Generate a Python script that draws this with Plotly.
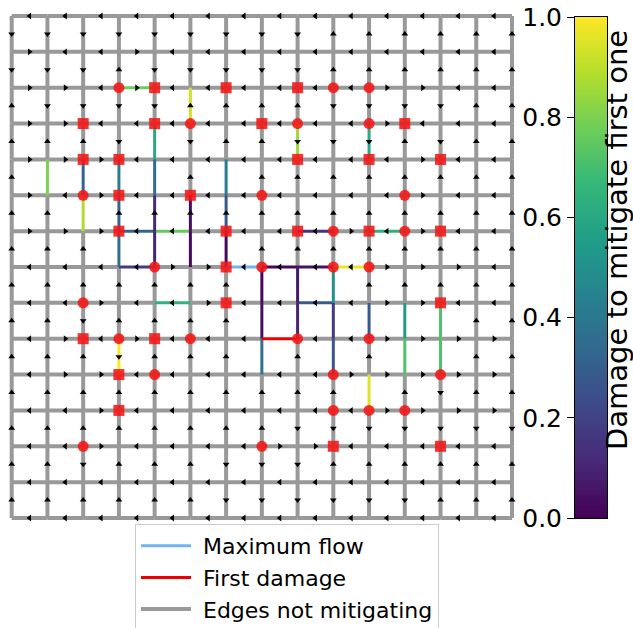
import numpy as np
import plotly.graph_objects as go
from plotly.colors import sample_colorscale

N = 15  # nodes per side of the grid

# flow direction of each horizontal edge, one string per row (R right, L left, . none)
h_arrows = [
    "LLLLLLLLLLLLLL",
    "RLLRLLLLLLLLLL",
    "RRLRLLLLLLRRLL",
    "RRLLLLLLLLRLLL",
    "RRRLLLLLLLLRLL",
    "RLRLLLLLLLLRLL",
    "RRRLLLLLLRLRLL",
    "LLLLRRLLLLRRRL",
    "LLRLLRLLLLRRLL",
    "LRLRLLL.LLRRRR",
    "LRRLLLLLLRRRRR",
    "LLRLLLLLLLRRRR",
    "LLRLLLLRRLLLLL",
    "LLLLLLLLLLLLLL",
    "LLLLLLLLLLLLLL",
]
# flow direction of each vertical edge between row r and r+1 (U up, D down, . none)
v_arrows = [
    "DDDDDDDDDUUUUUU",
    "DDDUDDDDDUUUUUU",
    "UDDDDUUUUDDDDUU",
    "UUUD.DUUDDDUDUU",
    "U....U.UUUUUUUU",
    "UU.UUUUUUUUUUUU",
    "UUU....UUUUUUUU",
    "UUUUUUU...UUUUU",
    "UUDUUUU......UU",
    "UUUDUUU.U.U..UU",
    "UUUUUUUUUU.UDUU",
    "UUUUUUUUDDDDDDD",
    "UUDUUUDDDUUUUUU",
    "UUUUUUDDDDDDUUU",
]

# mitigating edges: (col0, row0, col1, row1, damage to mitigate first one)
mitigating = [
    (3, 2, 4, 2, 0.77), (3, 6, 4, 6, 0.33), (4, 6, 5, 6, 0.76),
    (8, 6, 9, 6, 0.14), (10, 6, 11, 6, 0.63), (3, 7, 4, 7, 0.17),
    (7, 7, 8, 7, 0.02), (8, 7, 9, 7, 0.05), (9, 7, 10, 7, 0.97),
    (4, 8, 5, 8, 0.64), (8, 8, 9, 8, 0.28),
    (5, 2, 5, 3, 0.93), (4, 3, 4, 4, 0.60), (8, 3, 8, 4, 0.85),
    (10, 3, 10, 4, 0.60), (1, 4, 1, 5, 0.80), (2, 4, 2, 5, 0.32),
    (3, 4, 3, 5, 0.43), (4, 4, 4, 5, 0.35), (6, 4, 6, 5, 0.42),
    (2, 5, 2, 6, 0.88), (3, 5, 3, 6, 0.33), (4, 5, 4, 6, 0.12),
    (5, 5, 5, 6, 0.04), (6, 5, 6, 6, 0.28), (3, 6, 3, 7, 0.36),
    (4, 6, 4, 7, 0.10), (5, 6, 5, 7, 0.02), (6, 6, 6, 7, 0.02),
    (7, 7, 7, 8, 0.02), (8, 7, 8, 8, 0.07), (9, 7, 9, 8, 0.50),
    (7, 8, 7, 9, 0.04), (8, 8, 8, 9, 0.10), (9, 8, 9, 9, 0.17),
    (10, 8, 10, 9, 0.28), (11, 8, 11, 9, 0.55), (12, 8, 12, 9, 0.72),
    (7, 9, 7, 10, 0.37), (9, 9, 9, 10, 0.27), (11, 9, 11, 10, 0.72),
    (12, 9, 12, 10, 0.72), (3, 9, 3, 10, 1.00), (10, 10, 10, 11, 0.95),
]
max_flow_edge = (6, 7, 7, 7)
first_damage_edge = (7, 9, 8, 9)

# highlighted nodes (col, row)
circle_nodes = [
    (3, 2), (9, 2), (10, 2), (5, 3), (8, 3), (10, 3), (2, 5), (7, 5), (11, 5),
    (9, 6), (11, 6), (4, 7), (7, 7), (9, 7), (10, 7), (2, 8), (3, 9), (5, 9),
    (8, 9), (10, 9), (4, 10), (9, 10), (12, 10), (9, 11), (10, 11), (11, 11),
    (2, 12), (7, 12),
]
square_nodes = [
    (4, 2), (6, 2), (8, 2), (2, 3), (4, 3), (7, 3), (11, 3), (2, 4), (3, 4),
    (8, 4), (10, 4), (12, 4), (3, 5), (5, 5), (3, 6), (6, 6), (8, 6), (10, 6),
    (12, 6), (6, 7), (6, 8), (12, 8), (2, 9), (4, 9), (3, 10), (3, 11),
    (9, 12), (12, 12),
]

FONT = "DejaVu Sans"
GREY = "#999999"
MAXFLOW_COLOR = "#72b4f2"
DAMAGE_COLOR = "#ee0000"
NBSP = "\u00a0"


def key(c0, r0, c1, r1):
    return tuple(sorted([(c0, r0), (c1, r1)]))


special = {key(*e[:4]) for e in mitigating}
special.add(key(*max_flow_edge))
special.add(key(*first_damage_edge))

# all grid edges that are not mitigating
gx, gy = [], []
for r in range(N):
    for c in range(N - 1):
        if key(c, r, c + 1, r) not in special:
            gx += [c, c + 1, None]
            gy += [r, r, None]
for c in range(N):
    for r in range(N - 1):
        if key(c, r, c, r + 1) not in special:
            gx += [c, c, None]
            gy += [r, r + 1, None]

fig = go.Figure()

fig.add_trace(go.Scatter(
    x=gx, y=gy, mode="lines", name=NBSP + "Edges not mitigating",
    line=dict(color=GREY, width=4), legendrank=3, hoverinfo="skip",
))

for c0, r0, c1, r1, v in mitigating:
    col = sample_colorscale("Viridis", [v])[0]
    fig.add_trace(go.Scatter(
        x=[c0, c1], y=[r0, r1], mode="lines", showlegend=False,
        line=dict(color=col, width=3), hoverinfo="skip",
    ))

c0, r0, c1, r1 = max_flow_edge
fig.add_trace(go.Scatter(
    x=[c0, c1], y=[r0, r1], mode="lines", name=NBSP + "Maximum flow",
    line=dict(color=MAXFLOW_COLOR, width=3), legendrank=1, hoverinfo="skip",
))
c0, r0, c1, r1 = first_damage_edge
fig.add_trace(go.Scatter(
    x=[c0, c1], y=[r0, r1], mode="lines", name=NBSP + "First damage",
    line=dict(color=DAMAGE_COLOR, width=3), legendrank=2, hoverinfo="skip",
))

# arrowheads at edge midpoints
arrows = {"R": ([], []), "L": ([], []), "U": ([], []), "D": ([], [])}
for r, s in enumerate(h_arrows):
    for c, d in enumerate(s):
        if d in arrows:
            arrows[d][0].append(c + 0.5)
            arrows[d][1].append(r)
for r, s in enumerate(v_arrows):
    for c, d in enumerate(s):
        if d in arrows:
            arrows[d][0].append(c)
            arrows[d][1].append(r + 0.5)
symbols = {"R": "triangle-right", "L": "triangle-left",
           "U": "triangle-up", "D": "triangle-down"}
for d, (ax, ay) in arrows.items():
    fig.add_trace(go.Scatter(
        x=ax, y=ay, mode="markers", showlegend=False, hoverinfo="skip",
        marker=dict(symbol=symbols[d], size=6, color="black", line=dict(width=0)),
    ))

for nodes, sym in ((circle_nodes, "circle"), (square_nodes, "square")):
    fig.add_trace(go.Scatter(
        x=[n[0] for n in nodes], y=[n[1] for n in nodes], mode="markers",
        showlegend=False, hoverinfo="skip",
        marker=dict(symbol=sym, size=11, color="rgba(245,20,20,0.88)",
                    line=dict(width=0)),
    ))

# colour bar drawn as a gradient strip on its own axes
grad = np.linspace(0, 1, 256)
fig.add_trace(go.Heatmap(
    z=grad.reshape(-1, 1), x=[0], y=grad, colorscale="Viridis",
    zmin=0, zmax=1, showscale=False, xaxis="x2", yaxis="y2", hoverinfo="skip",
))

W, H = 633, 628
px_x = (512 - 11.7) / 14
px_y = (518 - 16) / 14
x_lo = -11.7 / px_x
x_hi = x_lo + 524 / px_x
y_top = -16 / px_y
y_bot = y_top + 526 / px_y

fig.update_layout(
    width=W, height=H,
    margin=dict(l=0, r=0, t=0, b=0, autoexpand=False),
    paper_bgcolor="white", plot_bgcolor="white",
    font=dict(family=FONT, color="black"),
    xaxis=dict(domain=[0, 524 / W], range=[x_lo, x_hi], visible=False,
               fixedrange=True),
    yaxis=dict(domain=[1 - 526 / H, 1], range=[y_bot, y_top], visible=False,
               fixedrange=True),
    xaxis2=dict(domain=[575 / W, 607 / W], anchor="y2", range=[-0.5, 0.5],
                showticklabels=False, ticks="", showgrid=False, zeroline=False,
                showline=True, linecolor="black", linewidth=1, mirror=True),
    yaxis2=dict(domain=[1 - 518 / H, 1 - 17 / H], anchor="x2", range=[0, 1],
                side="left", ticks="outside", ticklen=7, tickwidth=1,
                tickcolor="black", tickvals=[0, 0.2, 0.4, 0.6, 0.8, 1.0],
                ticktext=["0.0", "0.2", "0.4", "0.6", "0.8", "1.0"],
                tickfont=dict(size=25, family=FONT), showgrid=False,
                zeroline=False, showline=True, linecolor="black",
                linewidth=1, mirror=True),
    legend=dict(x=135 / W, y=1 - 524 / H, xanchor="left", yanchor="top",
                bgcolor="white", bordercolor="#cccccc", borderwidth=1,
                font=dict(size=22, family=FONT), itemwidth=50),
    annotations=[dict(
        text="Damage to mitigate first one", xref="paper", yref="paper",
        x=617 / W, y=1 - 240 / H, textangle=-90, showarrow=False,
        font=dict(size=29, family=FONT), xanchor="center", yanchor="middle",
    )],
)

fig.write_html("out.html")
